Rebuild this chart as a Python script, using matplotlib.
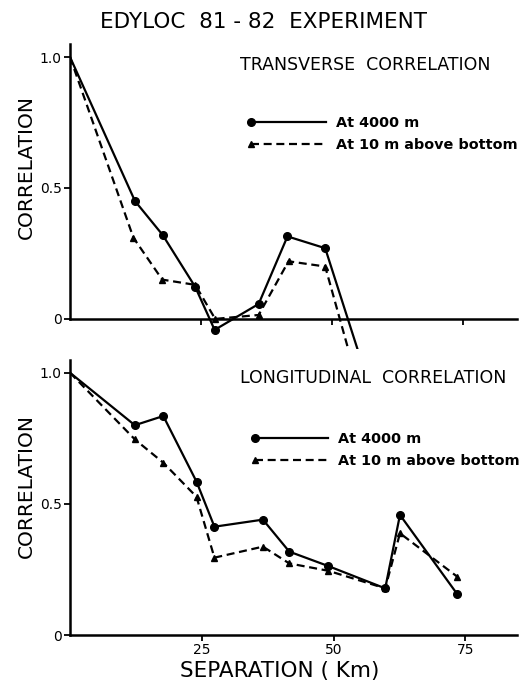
import matplotlib
matplotlib.use('Agg')
import matplotlib.pyplot as plt
from matplotlib.legend_handler import HandlerLine2D

plt.rcParams['font.family'] = 'DejaVu Sans'

# Transverse correlation (top panel); last point lies below the clipped axis
trans_sep_4000 = [0, 12.4, 17.7, 23.9, 27.6, 36.0, 41.5, 48.7, 55.1]
trans_corr_4000 = [1.0, 0.45, 0.32, 0.122, -0.042, 0.057, 0.315, 0.27, -0.13]
trans_sep_10m = [0, 12.1, 17.6, 23.9, 27.7, 36.0, 41.7, 48.7, 53.3]
trans_corr_10m = [1.0, 0.31, 0.15, 0.13, 0.0, 0.015, 0.22, 0.20, -0.13]

# Longitudinal correlation (bottom panel)
long_sep = [0, 12.3, 17.7, 24.0, 27.4, 36.6, 41.6, 49.0, 59.8, 62.6, 73.5]
long_corr_4000 = [1.0, 0.80, 0.835, 0.585, 0.413, 0.44, 0.318, 0.263, 0.178, 0.458, 0.155]
long_corr_10m = [1.0, 0.746, 0.657, 0.527, 0.295, 0.337, 0.273, 0.245, 0.178, 0.388, 0.222]

xticks = [25, 50, 75]
yticks = [0, 0.5, 1.0]
yticklabels = ['0', '0.5', '1.0']


class LeftMarker(HandlerLine2D):
    # marker at the left end of the legend line, as in the original figure
    def create_artists(self, *args, **kwargs):
        artists = super().create_artists(*args, **kwargs)
        artists[0].set_markevery([0])
        return artists


fig = plt.figure(figsize=(5.24, 6.81), dpi=100)
ax1 = fig.add_axes([0.1336, 0.4875, 0.853, 0.448])
ax2 = fig.add_axes([0.1336, 0.0675, 0.853, 0.4044])

lw = 1.6
dash = (3.6, 2.1)
for ax in (ax1, ax2):
    for s in ('top', 'right'):
        ax.spines[s].set_visible(False)
    ax.spines['left'].set_linewidth(1.8)
    ax.spines['bottom'].set_linewidth(1.8)
    ax.set_xticks(xticks)
    ax.set_yticks(yticks)
    ax.set_yticklabels(yticklabels)
    ax.tick_params(direction='out', length=4, width=1.3, labelsize=10, pad=2)
    ax.set_ylabel('CORRELATION', fontsize=14.5)

# top panel
l1, = ax1.plot(trans_sep_4000, trans_corr_4000, '-', color='black', lw=lw,
               marker='o', markersize=5.5, markevery=list(range(1, 8)),
               label='At 4000 m')
l2, = ax1.plot(trans_sep_10m, trans_corr_10m, '--', color='black', lw=lw,
               dashes=dash, marker='^', markersize=5,
               markevery=list(range(1, 8)), label='At 10 m above bottom')
ax1.set_xlim(0, 85.3)
ax1.set_ylim(-0.115, 1.05)
ax1.spines['bottom'].set_position(('data', 0))
ax1.spines['left'].set_bounds(0, 1.05)
ax1.set_xticklabels([])
ax1.yaxis.set_label_coords(-0.077, 0.597)
ax1.text(0.381, 0.93, 'TRANSVERSE  CORRELATION', transform=ax1.transAxes,
         fontsize=12.5, ha='left', va='center')
ax1.legend(handles=[l1, l2], loc='center left', bbox_to_anchor=(0.405, 0.705),
           frameon=False, borderpad=0, borderaxespad=0, handlelength=5.2,
           handletextpad=0.7, labelspacing=0.55, numpoints=1,
           prop={'size': 10.4, 'weight': 'bold'},
           handler_map={l1: LeftMarker(), l2: LeftMarker()})

# bottom panel
m1, = ax2.plot(long_sep, long_corr_4000, '-', color='black', lw=lw,
               marker='o', markersize=5.5, markevery=list(range(1, 11)),
               label='At 4000 m')
m2, = ax2.plot(long_sep, long_corr_10m, '--', color='black', lw=lw,
               dashes=dash, marker='^', markersize=5,
               markevery=list(range(1, 11)), label='At 10 m above bottom')
ax2.set_xlim(0, 84.8)
ax2.set_ylim(0, 1.05)
ax2.set_xticklabels([str(t) for t in xticks])
ax2.yaxis.set_label_coords(-0.077, 0.541)
ax2.set_xlabel('SEPARATION ( Km)', fontsize=15.5)
ax2.xaxis.set_label_coords(0.468, -0.095)
ax2.text(0.381, 0.935, 'LONGITUDINAL  CORRELATION', transform=ax2.transAxes,
         fontsize=12.5, ha='left', va='center')
ax2.legend(handles=[m1, m2], loc='center left', bbox_to_anchor=(0.415, 0.672),
           frameon=False, borderpad=0, borderaxespad=0, handlelength=5.0,
           handletextpad=0.7, labelspacing=0.55, numpoints=1,
           prop={'size': 10.4, 'weight': 'bold'},
           handler_map={m1: LeftMarker(), m2: LeftMarker()})

fig.text(0.503, 0.967, 'EDYLOC  81 - 82  EXPERIMENT', fontsize=15.5,
         ha='center', va='center')

fig.savefig('out.png', dpi=100, facecolor='white')
